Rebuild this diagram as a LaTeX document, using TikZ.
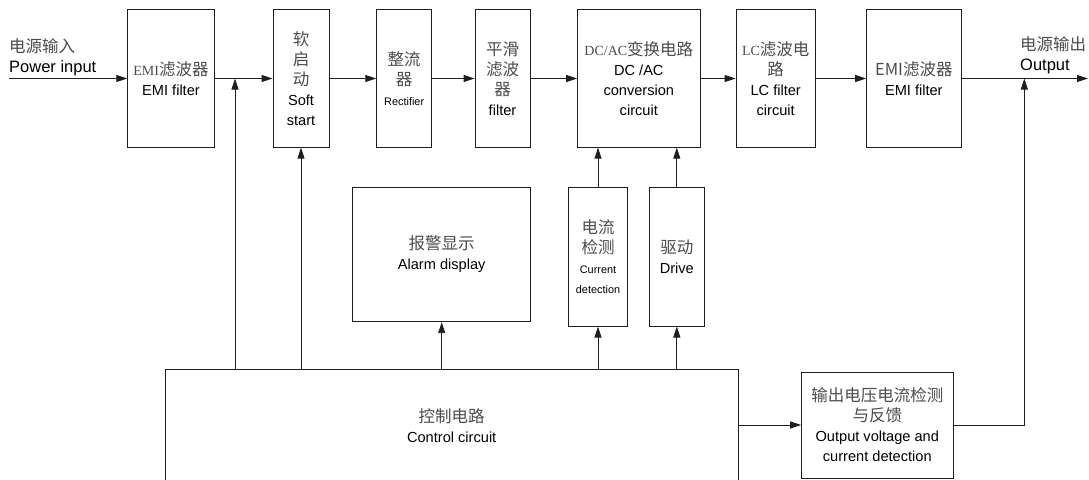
\documentclass[tikz,border=0pt]{standalone}
\usepackage{fontspec}
\setmainfont{Liberation Sans}
\newfontfamily\cjk{Noto Sans CJK SC}
\newfontfamily\latserif{Liberation Serif}
\usetikzlibrary{arrows.meta}
\definecolor{lc}{RGB}{30,30,30}
\definecolor{zhc}{RGB}{75,75,75}
\newcommand\myzh[1]{{\cjk\color{zhc}\fontsize{16.5}{20}\selectfont #1}}
\newcommand\mysr[1]{{\latserif\fontsize{14}{20}\selectfont #1}}
\newcommand\mysm[1]{{\fontsize{10.9}{20}\selectfont #1}}
\begin{document}
\begin{tikzpicture}[x=1pt,y=-1pt,
  box/.style={draw=lc, line width=0.9pt, inner sep=0pt, align=center, font=\fontsize{14.6}{20}\selectfont},
  txt/.style={inner sep=0pt, align=center, font=\fontsize{14.6}{20}\selectfont},
  arr/.style={draw=lc, line width=0.9pt, -{Triangle[length=11pt,width=7pt]}}]
\useasboundingbox (0,0) rectangle (1089,479);

% top chain
\node[box, minimum width=86.6pt, minimum height=137.4pt] (emi1) at (171,78.5) {\myzh{\mysr{EMI}滤波器}\\EMI filter};
\node[box, minimum width=56pt, minimum height=137.4pt] (soft) at (301,78.5) {\myzh{软}\\\myzh{启}\\\myzh{动}\\Soft\\start};
\node[box, minimum width=55pt, minimum height=137.4pt] (rect) at (404.2,78.5) {\myzh{整流}\\\myzh{器}\\\mysm{Rectifier}};
\node[box, minimum width=55pt, minimum height=137.4pt] (smooth) at (502.5,78.5) {\myzh{平滑}\\\myzh{滤波}\\\myzh{器}\\filter};
\node[box, minimum width=122.3pt, minimum height=137.4pt] (dcac) at (638.8,78.5) {\myzh{\mysr{DC/AC}变换电路}\\DC /AC\\conversion\\circuit};
\node[box, minimum width=79.3pt, minimum height=137.4pt] (lcf) at (775.7,78.5) {\myzh{\mysr{LC}滤波电}\\\myzh{路}\\LC filter\\circuit};
\node[box, minimum width=94.3pt, minimum height=137.4pt] (emi2) at (913.8,78.5) {\myzh{EMI滤波器}\\EMI filter};

% middle row
\node[box, minimum width=178pt, minimum height=134.4pt] (alarm) at (441.7,254.5) {\myzh{报警显示}\\Alarm display};
\node[box, minimum width=59.4pt, minimum height=138.7pt] (cur) at (598,256.7) {\myzh{电流}\\\myzh{检测}\\\mysm{Current}\\\mysm{detection}};
\node[box, minimum width=55pt, minimum height=138.7pt] (drv) at (676.8,256.7) {\myzh{驱动}\\Drive};

% bottom row
\node[draw=lc, line width=0.9pt, inner sep=0pt, minimum width=573.3pt, minimum height=200pt, anchor=north west] (ctrl) at (165,369.3) {};
\node[txt] (ctrltxt) at (451.7,425.5) {\myzh{控制电路}\\Control circuit};
\node[box, minimum width=151.3pt, minimum height=106pt] (odet) at (877.3,425) {\myzh{输出电压电流检测}\\\myzh{与反馈}\\Output voltage and\\current detection};

% labels
\node[inner sep=0pt, align=left, anchor=west, font=\fontsize{16.5}{20}\selectfont] (inlbl) at (9,57) {\myzh{电源输入}\\Power input};
\node[inner sep=0pt, align=left, anchor=west, font=\fontsize{16.5}{20}\selectfont] (outlbl) at (1020,55) {\myzh{电源输出}\\Output};

% coordinates
\coordinate (pin) at (9,78.5);
\coordinate (pout) at (1088,78.5);
\coordinate (jn) at (235,78.5);
\coordinate (jo) at (1024.3,78.5);

% connectors
\draw[arr] (pin) -- (emi1.west);
\draw[arr] (emi1.east) -- (soft.west);
\draw[arr] (soft.east) -- (rect.west);
\draw[arr] (rect.east) -- (smooth.west);
\draw[arr] (smooth.east) -- (dcac.west);
\draw[arr] (dcac.east) -- (lcf.west);
\draw[arr] (lcf.east) -- (emi2.west);
\draw[arr] (emi2.east) -- (pout);
\draw[arr] (ctrl.north -| jn) -- (jn);
\draw[arr] (ctrl.north -| soft.south) -- (soft.south);
\draw[arr] (ctrl.north -| alarm.south) -- (alarm.south);
\draw[arr] (ctrl.north -| cur.south) -- (cur.south);
\draw[arr] (cur.north) -- (cur.north |- dcac.south);
\draw[arr] (ctrl.north -| drv.south) -- (drv.south);
\draw[arr] (drv.north) -- (drv.north |- dcac.south);
\draw[arr] (ctrl.east |- odet.west) -- (odet.west);
\draw[arr] (odet.east) -| (jo);
\end{tikzpicture}
\end{document}
